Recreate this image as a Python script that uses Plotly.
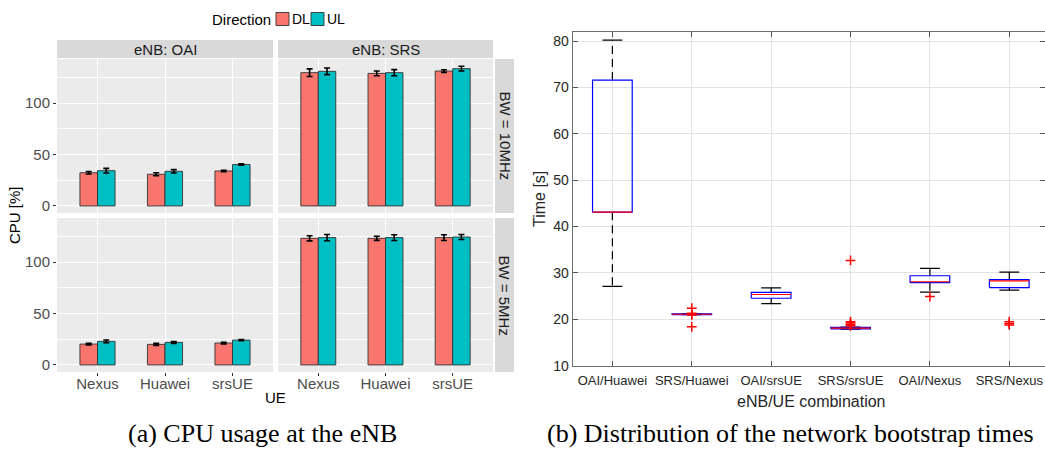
import plotly.graph_objects as go

# ---------------- data: (a) CPU usage ----------------
ues = ["Nexus", "Huawei", "srsUE"]
enbs = ["OAI", "SRS"]
bws = ["10MHz", "5MHz"]
directions = ["DL", "UL"]

oai_10_dl = [32.3, 30.8, 34.0]
oai_10_ul = [34.3, 33.7, 40.3]
oai_10_dl_err = [1.2, 1.5, 0.6]
oai_10_ul_err = [2.2, 1.6, 0.7]

srs_10_dl = [129.7, 129.0, 131.3]
srs_10_ul = [131.0, 129.7, 133.6]
srs_10_dl_err = [3.7, 2.3, 1.3]
srs_10_ul_err = [3.2, 3.0, 2.3]

oai_5_dl = [20.3, 20.0, 21.3]
oai_5_ul = [22.9, 21.9, 24.2]
oai_5_dl_err = [0.8, 1.0, 0.8]
oai_5_ul_err = [1.3, 0.9, 0.6]

srs_5_dl = [123.2, 123.2, 123.9]
srs_5_ul = [123.9, 123.9, 124.5]
srs_5_dl_err = [2.5, 2.0, 2.8]
srs_5_ul_err = [3.0, 2.8, 2.5]

# ---------------- data: (b) bootstrap times ----------------
combos = ["OAI/Huawei", "SRS/Huawei", "OAI/srsUE", "SRS/srsUE", "OAI/Nexus", "SRS/Nexus"]
lower_whisker = [27.1, 21.0, 23.4, 17.9, 25.85, 26.3]
q1 = [43.1, 21.0, 24.55, 17.95, 27.9, 26.85]
median = [43.1, 21.1, 25.35, 18.1, 28.1, 28.3]
q3 = [71.6, 21.2, 25.8, 18.25, 29.4, 28.55]
upper_whisker = [80.2, 21.2, 26.8, 18.3, 31.0, 30.2]
outliers = [[], [22.4, 21.3, 20.95, 18.4], [], [32.7, 19.5, 19.2, 18.9, 18.6], [24.9], [19.5, 19.1, 18.8]]

W, H = 1045, 450
def fx(p):
    return p / W
def fy(p):
    return 1 - p / H

DL_C, UL_C = "#F8766D", "#00BFC4"
dir_colors = [DL_C, UL_C]
SANS = "Liberation Sans, Arial, sans-serif"
SERIF = "Liberation Serif, Times New Roman, serif"

fig = go.Figure()

panels = [
    (oai_10_dl, oai_10_ul, oai_10_dl_err, oai_10_ul_err),
    (srs_10_dl, srs_10_ul, srs_10_dl_err, srs_10_ul_err),
    (oai_5_dl, oai_5_ul, oai_5_dl_err, oai_5_ul_err),
    (srs_5_dl, srs_5_ul, srs_5_dl_err, srs_5_ul_err),
]
col_x = [(57, 273), (278, 493)]
row_y = [(59, 213), (218, 372)]

layout_axes = {}
for k, (dl, ul, dle, ule) in enumerate(panels):
    n = k + 1
    xa = "x" if n == 1 else f"x{n}"
    ya = "y" if n == 1 else f"y{n}"
    for vals, errs, name, col in ((dl, dle, "DL", DL_C), (ul, ule, "UL", UL_C)):
        fig.add_trace(go.Bar(
            x=ues, y=vals, name=name, legendgroup=name, showlegend=False,
            marker=dict(color=col, line=dict(color="#333333", width=0.9)),
            error_y=dict(type="data", array=errs, color="black", thickness=1.6, width=3),
            xaxis=xa, yaxis=ya,
        ))
    r, c = divmod(k, 2)
    x0, x1 = col_x[c]
    y0, y1 = row_y[r]
    xkey = "xaxis" if n == 1 else f"xaxis{n}"
    ykey = "yaxis" if n == 1 else f"yaxis{n}"
    layout_axes[xkey] = dict(
        domain=[fx(x0), fx(x1)], anchor=ya, type="category", range=[-0.6, 2.6],
        showgrid=True, gridcolor="white", gridwidth=1.1, zeroline=False,
        showticklabels=(r == 1), ticks="outside" if r == 1 else "", ticklen=3,
        tickcolor="#333333", tickfont=dict(family=SANS, size=15, color="#4D4D4D"),
        ticklabelstandoff=-5, showline=False, automargin=False,
    )
    layout_axes[ykey] = dict(
        domain=[fy(y1), fy(y0)], anchor=xa, range=[-6.9, 143],
        tickvals=[0, 50, 100], showgrid=True, gridcolor="white", gridwidth=1.1,
        minor=dict(tickvals=[25, 75, 125], showgrid=True, gridcolor="white", gridwidth=0.5),
        zeroline=False, showticklabels=(c == 0), ticks="outside" if c == 0 else "",
        ticklen=3, tickcolor="#333333",
        tickfont=dict(family=SANS, size=15, color="#4D4D4D"), automargin=False,
    )

shapes = []
annotations = []

def note(text, x, y, size, color="black", family=SANS, angle=0):
    annotations.append(dict(text=text, xref="paper", yref="paper", x=fx(x), y=fy(y),
                            xanchor="center", yanchor="middle", showarrow=False, textangle=angle,
                            font=dict(family=family, size=size, color=color)))

# panel backgrounds and strips
for c, (x0, x1) in enumerate(col_x):
    for r, (y0, y1) in enumerate(row_y):
        shapes.append(dict(type="rect", xref="paper", yref="paper", x0=fx(x0), x1=fx(x1),
                           y0=fy(y1), y1=fy(y0), fillcolor="#EBEBEB", line=dict(width=0), layer="below"))
    shapes.append(dict(type="rect", xref="paper", yref="paper", x0=fx(x0), x1=fx(x1),
                       y0=fy(58), y1=fy(40), fillcolor="#D9D9D9", line=dict(width=0), layer="below"))
    note("eNB: " + enbs[c], (x0 + x1) / 2, 49.5, 15, "#1A1A1A")
for r, (y0, y1) in enumerate(row_y):
    shapes.append(dict(type="rect", xref="paper", yref="paper", x0=fx(495), x1=fx(514),
                       y0=fy(y1), y1=fy(y0), fillcolor="#D9D9D9", line=dict(width=0), layer="below"))
    note("BW = " + bws[r], 504.5, (y0 + y1) / 2, 15, "#1A1A1A", angle=90)

# legend (Direction: DL, UL)
annotations.append(dict(text="Direction", xref="paper", yref="paper", x=fx(273), y=fy(19),
                        xanchor="right", yanchor="middle", showarrow=False,
                        font=dict(family=SANS, size=15, color="black")))
key_x = [276, 311]
for i, d in enumerate(directions):
    shapes.append(dict(type="rect", xref="paper", yref="paper", x0=fx(key_x[i]), x1=fx(key_x[i] + 13),
                       y0=fy(25.5), y1=fy(12.5), fillcolor=dir_colors[i],
                       line=dict(color="#333333", width=0.9)))
    annotations.append(dict(text=d, xref="paper", yref="paper", x=fx(key_x[i] + 14), y=fy(19),
                            xanchor="left", yanchor="middle", showarrow=False,
                            font=dict(family=SANS, size=14, color="black")))

note("CPU [%]", 14, 215, 15, angle=-90)
note("UE", 275, 397, 15)
note("(a) CPU usage at the eNB", 262, 433, 26, family=SERIF)

# ---------------- (b) boxplot drawn on axis 5 ----------------
half_box = 0.25
half_cap = 0.125
pos = list(range(1, len(combos) + 1))
bx, by, mx, my, wx, wy, cx, cy, ox, oy = [], [], [], [], [], [], [], [], [], []
for i, p in enumerate(pos):
    bx += [p - half_box, p + half_box, p + half_box, p - half_box, p - half_box, None]
    by += [q1[i], q1[i], q3[i], q3[i], q1[i], None]
    mx += [p - half_box, p + half_box, None]
    my += [median[i], median[i], None]
    wx += [p, p, None, p, p, None]
    wy += [q3[i], upper_whisker[i], None, q1[i], lower_whisker[i], None]
    cx += [p - half_cap, p + half_cap, None, p - half_cap, p + half_cap, None]
    cy += [upper_whisker[i], upper_whisker[i], None, lower_whisker[i], lower_whisker[i], None]
    for v in outliers[i]:
        ox.append(p)
        oy.append(v)

fig.add_trace(go.Scatter(x=wx, y=wy, mode="lines", line=dict(color="black", width=1.2, dash="8px,5px"),
                         showlegend=False, xaxis="x5", yaxis="y5", hoverinfo="skip"))
fig.add_trace(go.Scatter(x=cx, y=cy, mode="lines", line=dict(color="black", width=1.2),
                         showlegend=False, xaxis="x5", yaxis="y5", hoverinfo="skip"))
fig.add_trace(go.Scatter(x=bx, y=by, mode="lines", line=dict(color="#0000FF", width=1.2),
                         showlegend=False, xaxis="x5", yaxis="y5"))
fig.add_trace(go.Scatter(x=mx, y=my, mode="lines", line=dict(color="#FF0000", width=1.2),
                         showlegend=False, xaxis="x5", yaxis="y5"))
fig.add_trace(go.Scatter(x=ox, y=oy, mode="markers",
                         marker=dict(symbol="cross-thin", size=7, line=dict(color="#FF0000", width=1.5)),
                         showlegend=False, xaxis="x5", yaxis="y5"))

layout_axes["xaxis5"] = dict(
    domain=[fx(572.7), 1.0], anchor="y5", range=[0.5, 6.45],
    tickvals=pos, ticktext=combos, ticks="inside", ticklen=5, tickcolor="#555555",
    showline=True, linecolor="#6E6E6E", linewidth=1.3, mirror="ticks",
    showgrid=True, gridcolor="#E3E3E3", gridwidth=1, zeroline=False,
    tickfont=dict(family=SANS, size=13, color="#262626"), ticklabelstandoff=3, automargin=False,
)
layout_axes["yaxis5"] = dict(
    domain=[fy(365.7), fy(32.3)], anchor="x5", range=[10, 81.9],
    tickvals=[10, 20, 30, 40, 50, 60, 70, 80], ticks="inside", ticklen=5, tickcolor="#555555",
    showline=True, linecolor="#6E6E6E", linewidth=1.3, mirror="ticks",
    showgrid=True, gridcolor="#E3E3E3", gridwidth=1, zeroline=False,
    tickfont=dict(family=SANS, size=14, color="#262626"), automargin=False,
)
note("Time [s]", 539, 199, 16, "#262626", angle=-90)
note("eNB/UE combination", 811, 401, 16, "#262626")
note("(b) Distribution of the network bootstrap times", 790, 433, 26, family=SERIF)

fig.update_layout(
    width=W, height=H, margin=dict(l=0, r=0, t=0, b=0),
    paper_bgcolor="white", plot_bgcolor="rgba(0,0,0,0)",
    barmode="group", bargap=0.48, bargroupgap=0, showlegend=False,
    shapes=shapes, annotations=annotations,
    **layout_axes,
)

fig.write_html("out.html")
